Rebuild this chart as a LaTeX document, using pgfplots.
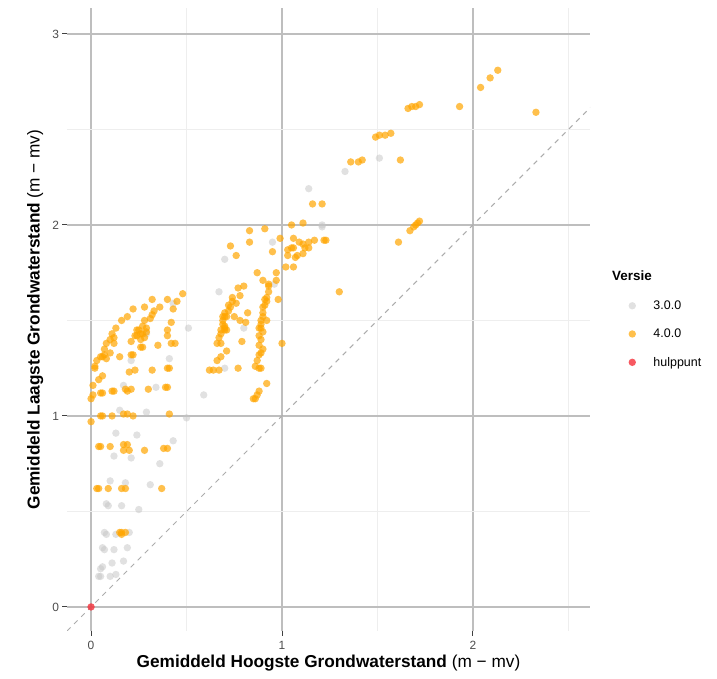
\documentclass[border=0pt]{standalone}
\usepackage{pgfplots}
\pgfplotsset{compat=1.18}
\usepackage{fontspec}
\setmainfont{Liberation Sans}
\definecolor{ggorange}{HTML}{FFA500}
\definecolor{gggray}{HTML}{C4C4C4}
\definecolor{ggred}{HTML}{F5303A}
\definecolor{gridmaj}{HTML}{BEBEBE}
\definecolor{gridmin}{HTML}{EEEEEE}
\definecolor{ticklab}{HTML}{4D4D4D}
\begin{document}
\begin{tikzpicture}
\begin{axis}[
  scale only axis, width=523bp, height=623bp,
  xmin=-0.126, xmax=2.613, ymin=-0.126, ymax=3.136,
  axis line style={draw=none},
  xtick={0,1,2}, ytick={0,1,2,3},
  minor xtick={0.5,1.5,2.5}, minor ytick={0.5,1.5,2.5},
  grid=both,
  major grid style={gridmaj, line width=1.2bp},
  minor grid style={gridmin, line width=0.6bp},
  tick align=outside, xtick pos=bottom, ytick pos=left,
  major tick length=4.5bp, minor tick length=0pt,
  tick style={color=black!75, line width=1bp},
  ticklabel style={font=\fontsize{12}{14}\selectfont, text=ticklab},
  xticklabel style={yshift=-2bp},
  /pgf/number format/assume math mode=true,
  xlabel={\textbf{Gemiddeld Hoogste Grondwaterstand} (m − mv)},
  ylabel={\textbf{Gemiddeld Laagste Grondwaterstand} (m − mv)},
  label style={font=\fontsize{17.3}{20}\selectfont},
  xlabel style={at={(axis description cs:0.5,-0.0515)}, anchor=center},
  ylabel style={at={(axis description cs:-0.061,0.5)}, anchor=center},
  legend style={at={(axis description cs:1.073,0.5305)}, anchor=north west,
    draw=none, fill=none, font=\fontsize{12.5}{14}\selectfont,
    row sep=18bp, inner sep=0pt, nodes={inner sep=0pt}},
  legend cell align=left,
  legend image code/.code={\draw[#1] plot coordinates {(3.7bp,0bp)}; \path (0bp,0bp) (24.7bp,0bp);},
  clip mode=individual,
]
\addplot[forget plot, color=gray!65, line width=1bp, dash pattern=on 5bp off 5bp]
  coordinates {(-0.2,-0.2) (2.8,2.8)};

% Versie 3.0.0
\addplot[only marks, mark=*, mark size=3.7bp, color=gggray,
  mark options={fill=gggray, fill opacity=0.5, draw opacity=0}]
coordinates {
(0.43,1.59) (0.51,1.46) (0.29,1.43) (0.21,1.29) (0.41,1.30) (0.17,1.16)
(0.34,1.15) (0.59,1.11) (0.15,1.03) (0.29,1.02) (0.50,0.99)
(0.13,0.91) (0.24,0.90) (0.43,0.87) (0.12,0.79) (0.21,0.78) (0.36,0.75)
(0.10,0.66) (0.18,0.65) (0.31,0.64) (0.08,0.54) (0.09,0.53) (0.16,0.53)
(0.25,0.51) (0.07,0.39) (0.08,0.38) (0.13,0.38) (0.20,0.39) (0.06,0.31)
(0.07,0.30) (0.12,0.30) (0.19,0.31) (0.05,0.20) (0.06,0.21) (0.11,0.23)
(0.17,0.24) (0.04,0.16) (0.05,0.16) (0.10,0.16) (0.13,0.17)
(0.96,1.69) (0.67,1.65) (0.80,1.46) (0.70,1.25) (0.95,1.91) (0.70,1.82)
(1.21,2.00) (1.14,2.19) (1.33,2.28) (1.51,2.35) (1.21,1.99)
};
\addlegendentry{3.0.0}

% Versie 4.0.0
\addplot[only marks, mark=*, mark size=3.7bp, color=ggorange,
  mark options={fill=ggorange, fill opacity=0.7, draw opacity=0}]
coordinates {
(0.48,1.64) (0.40,1.61) (0.45,1.60) (0.43,1.56) (0.32,1.61) (0.28,1.57)
(0.36,1.57) (0.33,1.55) (0.32,1.53) (0.31,1.51) (0.22,1.56) (0.19,1.52)
(0.16,1.50) (0.13,1.46) (0.11,1.43) (0.10,1.40) (0.08,1.38) (0.07,1.35)
(0.07,1.32) (0.10,1.33) (0.06,1.31) (0.08,1.30) (0.03,1.29) (0.02,1.26)
(0.02,1.25) (0.12,1.41) (0.12,1.38) (0.15,1.31) (0.06,1.21) (0.04,1.19)
(0.01,1.16) (0.01,1.11) (0.00,1.09) (0.06,1.12) (0.05,1.12) (0.11,1.13)
(0.12,1.13) (0.18,1.14) (0.21,1.14) (0.19,1.13) (0.30,1.14) (0.39,1.15)
(0.40,1.15) (0.20,1.23) (0.23,1.24) (0.32,1.24) (0.40,1.25) (0.41,1.25)
(0.21,1.32) (0.22,1.32) (0.26,1.36) (0.27,1.36) (0.35,1.37) (0.42,1.38)
(0.44,1.38) (0.21,1.39) (0.24,1.42) (0.26,1.40) (0.24,1.45) (0.27,1.47)
(0.28,1.50) (0.29,1.46) (0.29,1.44) (0.26,1.43) (0.40,1.42) (0.40,1.45)
(0.42,1.49) (0.23,1.42) (0.25,1.45) (0.27,1.43) (0.28,1.41) (0.05,1.31)
(0.00,0.97) (0.05,1.00) (0.06,1.00) (0.11,1.00) (0.17,1.01) (0.19,1.01)
(0.22,1.00) (0.41,1.01)
(0.04,0.84) (0.05,0.84) (0.10,0.84) (0.17,0.85) (0.19,0.85) (0.17,0.82)
(0.20,0.82) (0.28,0.82) (0.38,0.83) (0.40,0.83)
(0.03,0.62) (0.04,0.62) (0.09,0.62) (0.16,0.62) (0.18,0.62) (0.37,0.62)
(0.15,0.39) (0.16,0.39) (0.18,0.39) (0.16,0.38)
(0.83,1.97) (0.91,1.98) (0.83,1.91) (0.73,1.89) (0.76,1.84) (0.95,1.86)
(0.99,1.93) (1.05,2.00) (1.11,2.01) (1.06,1.93) (1.09,1.91) (1.11,1.90)
(1.14,1.91) (1.17,1.92) (1.22,1.92) (1.03,1.87) (1.05,1.88) (1.06,1.88)
(1.03,1.84) (1.08,1.84) (1.11,1.85) (1.14,1.88) (1.12,1.88) (1.02,1.78)
(1.06,1.78) (1.30,1.65) (0.87,1.75) (0.97,1.75) (0.90,1.71) (0.97,1.71)
(0.93,1.69) (0.93,1.68) (0.80,1.68) (0.77,1.67) (0.74,1.62) (0.78,1.63)
(0.93,1.65) (0.92,1.62) (0.91,1.61) (0.98,1.61) (0.76,1.59) (0.73,1.57)
(0.72,1.55) (0.75,1.52) (0.69,1.52) (0.70,1.52) (0.71,1.52) (0.69,1.50)
(0.69,1.48) (0.70,1.47) (0.70,1.46) (0.68,1.45) (0.70,1.45) (0.71,1.45)
(0.67,1.41) (0.66,1.38) (0.68,1.38) (0.66,1.29) (0.68,1.31) (0.71,1.34)
(0.64,1.24) (0.67,1.24) (0.77,1.25) (0.79,1.39) (0.82,1.54) (0.78,1.50)
(0.81,1.49) (0.90,1.57) (0.90,1.54) (0.89,1.50) (0.92,1.50) (0.88,1.46)
(0.89,1.46) (0.88,1.42) (0.89,1.40) (0.90,1.35) (0.88,1.32) (0.87,1.29)
(0.86,1.26) (0.88,1.25) (0.89,1.25) (1.00,1.38) (0.92,1.17) (0.88,1.13)
(0.87,1.11) (0.85,1.09) (0.86,1.09) (0.62,1.24)
(0.91,1.58) (0.92,1.60) (0.90,1.52) (0.89,1.48) (0.90,1.44) (0.88,1.37)
(0.89,1.33) (0.72,1.58) (0.74,1.60) (0.70,1.54) (0.68,1.43)
(2.13,2.81) (2.09,2.77) (2.04,2.72) (1.93,2.62) (2.33,2.59) (1.66,2.61)
(1.68,2.62) (1.70,2.62) (1.72,2.63) (1.49,2.46) (1.51,2.47) (1.54,2.47)
(1.57,2.48) (1.36,2.33) (1.40,2.33) (1.42,2.34) (1.62,2.34) (1.16,2.11)
(1.21,2.11) (1.72,2.02) (1.71,2.01) (1.70,2.00) (1.69,1.99) (1.67,1.97)
(1.61,1.91) (1.23,1.92) (1.07,1.83)
};
\addlegendentry{4.0.0}

% hulppunt
\addplot[only marks, mark=*, mark size=3.7bp, color=ggred,
  mark options={fill=ggred, fill opacity=0.8, draw opacity=0}]
coordinates {(0,0)};
\addlegendentry{hulppunt}

\node[anchor=west, inner sep=0pt, font=\fontsize{13.5}{16}\selectfont\bfseries]
  at (axis description cs:1.042,0.571) {Versie};
\end{axis}
\pgfresetboundingbox
\useasboundingbox (-67bp,-48bp) rectangle (650bp,631bp);
\end{tikzpicture}
\end{document}
